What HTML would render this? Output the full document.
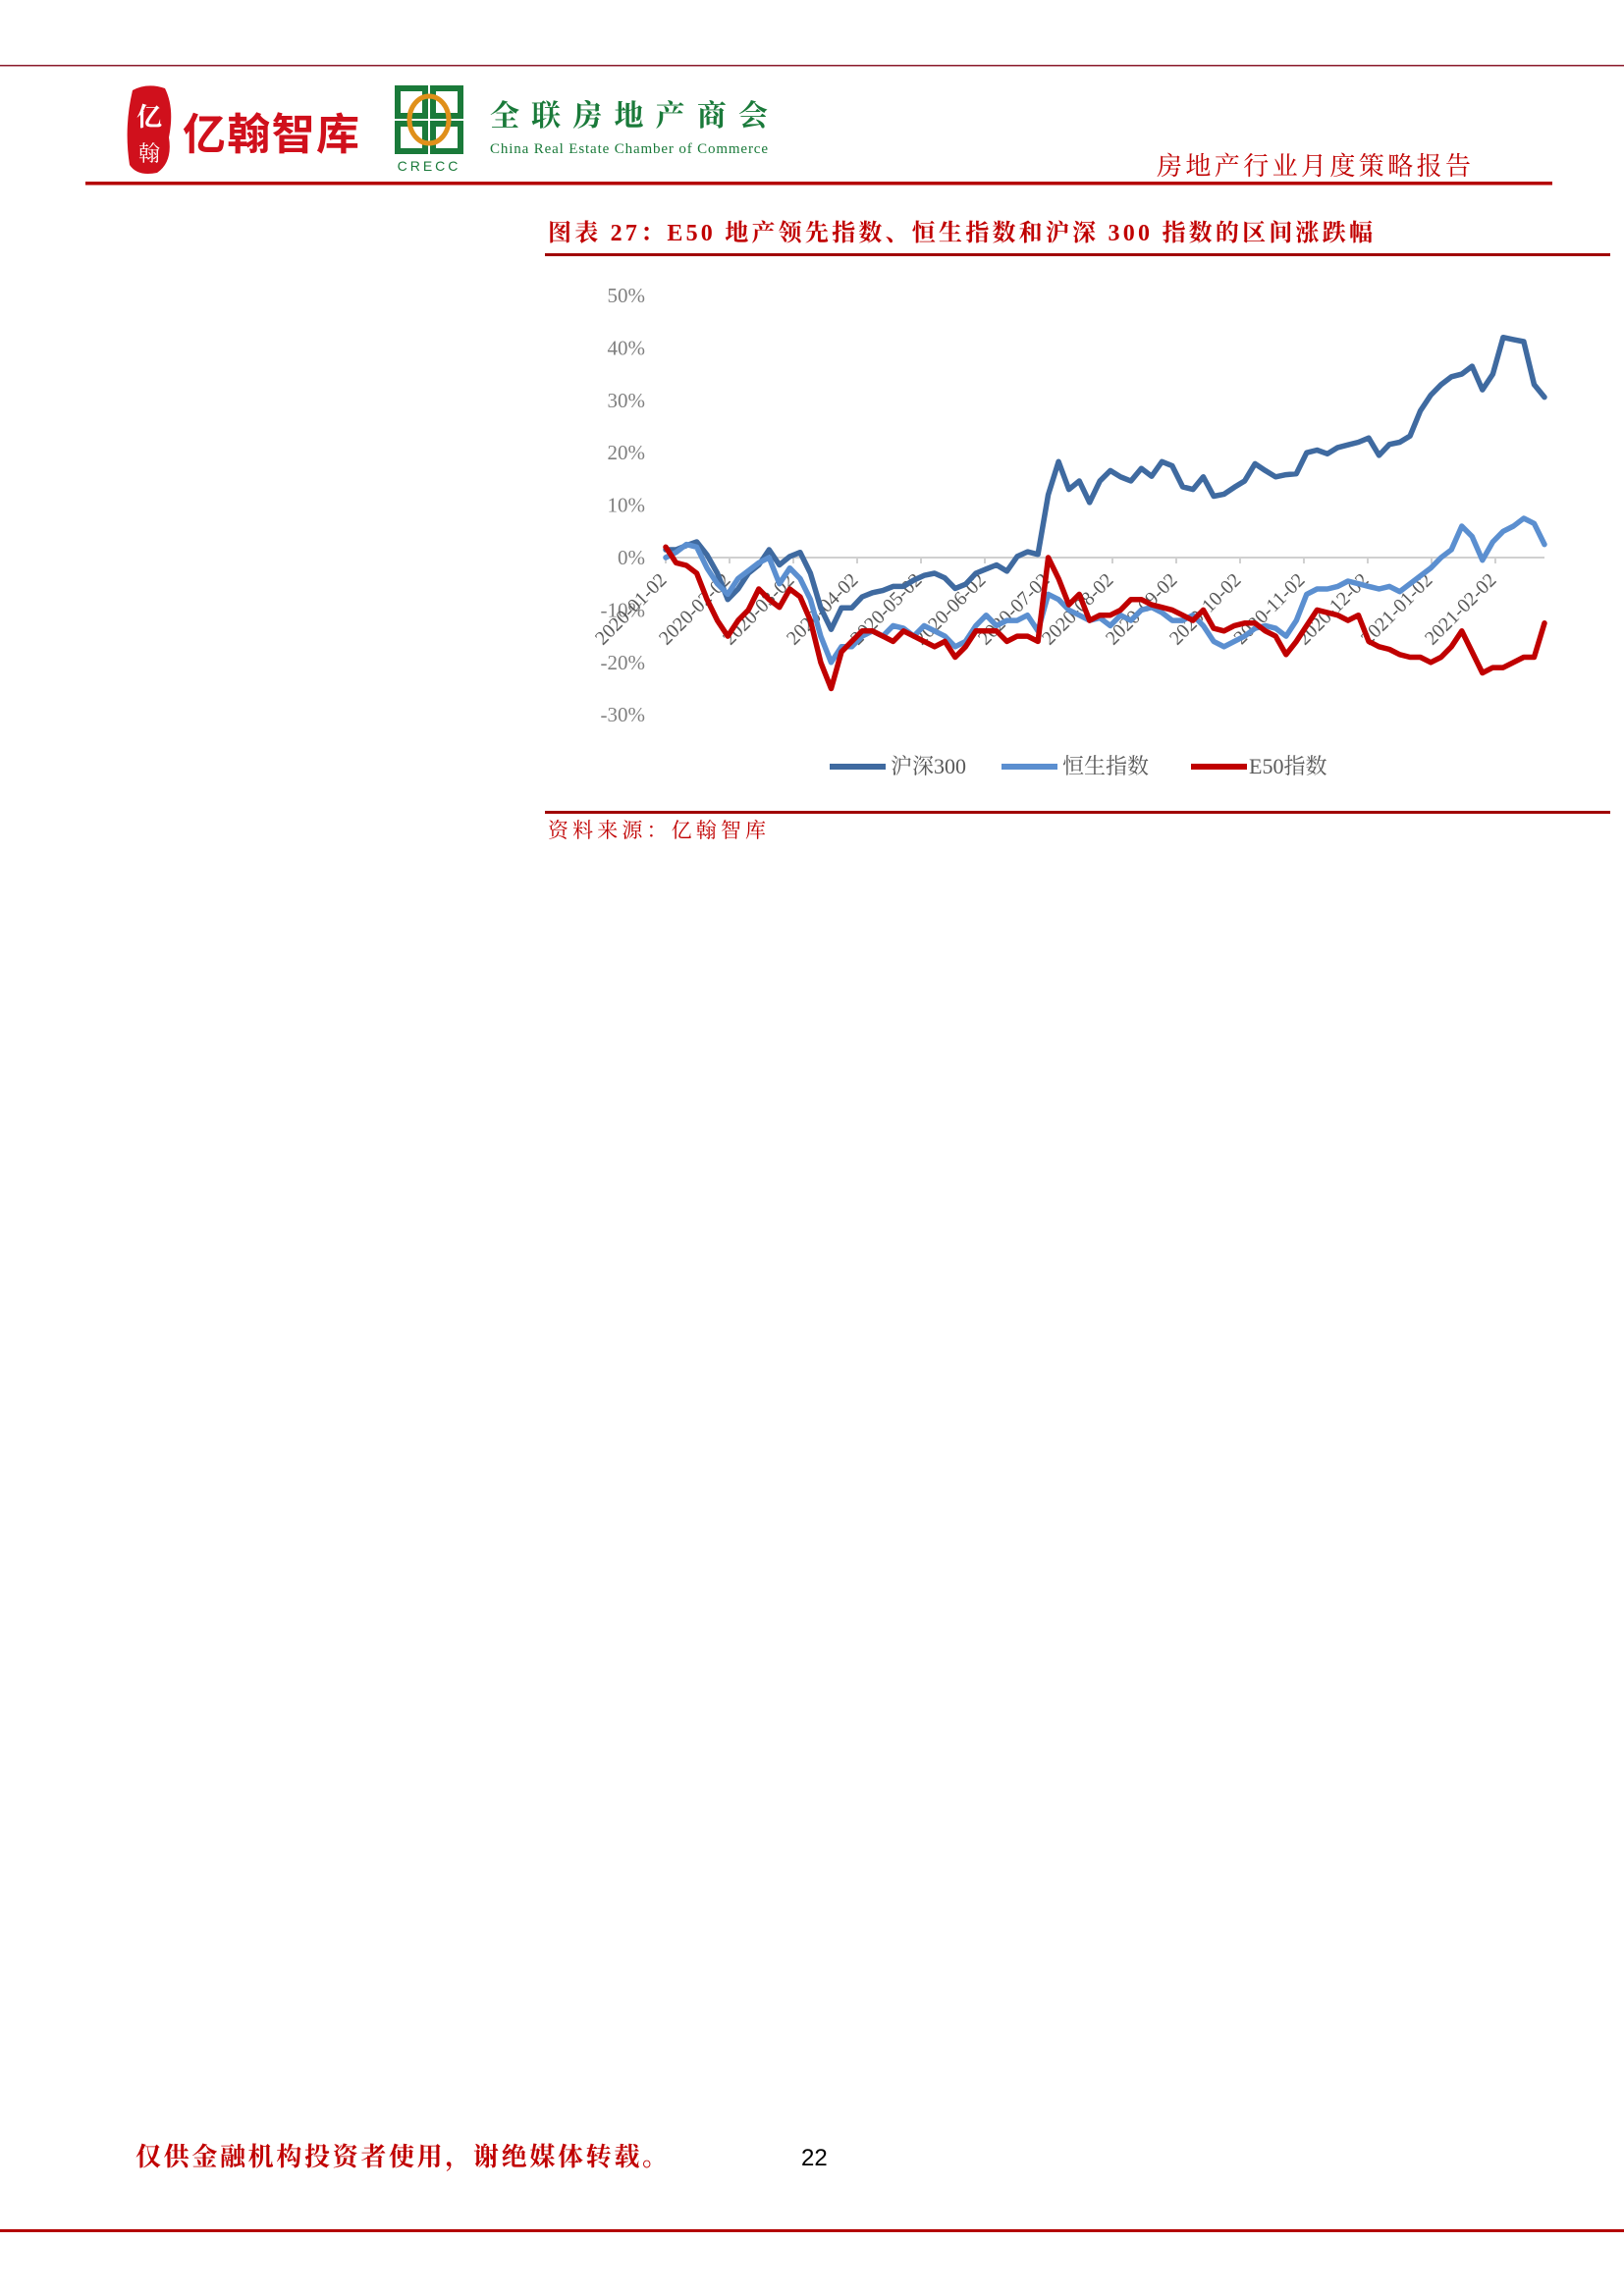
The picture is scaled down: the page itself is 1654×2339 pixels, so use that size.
<!DOCTYPE html>
<html><head><meta charset="utf-8">
<style>
html,body{margin:0;padding:0;background:#fff;}
svg{display:block;}
.serif{font-family:"Liberation Serif","Noto Serif CJK SC",serif;}
.sans{font-family:"Liberation Sans","Noto Sans CJK SC",sans-serif;}
</style></head>
<body>
<svg id="page" width="1654" height="2339" viewBox="0 0 1654 2339" xmlns="http://www.w3.org/2000/svg">
  <rect x="0" y="66" width="1654" height="1.5" fill="#8b1a2b"/>
  <g>
    <path d="M135 92 Q150 84 168 90 Q178 110 172 140 Q176 165 160 176 Q140 180 132 168 Q126 130 135 92Z" fill="#d0101c"/>
    <text x="152" y="128" font-size="26" fill="#fff" text-anchor="middle" class="serif" font-weight="bold">亿</text>
    <text x="152" y="164" font-size="22" fill="#fff" text-anchor="middle" class="serif">翰</text>
    <text x="186" y="152" font-size="44" fill="#d0101c" font-weight="bold" class="sans" textLength="180">亿翰智库</text>
  </g>
  <g>
    <rect x="405" y="90" width="28" height="28" fill="none" stroke="#1a7a3a" stroke-width="6"/>
    <rect x="441" y="90" width="28" height="28" fill="none" stroke="#1a7a3a" stroke-width="6"/>
    <rect x="405" y="126" width="28" height="28" fill="none" stroke="#1a7a3a" stroke-width="6"/>
    <rect x="441" y="126" width="28" height="28" fill="none" stroke="#1a7a3a" stroke-width="6"/>
    <ellipse cx="437" cy="122" rx="20" ry="24" fill="none" stroke="#e0901a" stroke-width="5"/>
    <text x="437" y="174" font-size="14" fill="#1a7a3a" text-anchor="middle" class="sans" letter-spacing="3">CRECC</text>
    <text x="499" y="128" font-size="30" fill="#1a7a3a" font-weight="bold" class="serif" textLength="283">全联房地产商会</text>
    <text x="499" y="156" font-size="15" fill="#1a7a3a" class="serif" textLength="283">China Real Estate Chamber of Commerce</text>
  </g>
  <text x="1178" y="178" font-size="26" fill="#c00000" class="serif" textLength="320">房地产行业月度策略报告</text>
  <rect x="87" y="185" width="1494" height="3.5" fill="#b40000"/>

  <text x="558" y="245" font-size="24" fill="#c00000" font-weight="bold" class="serif" textLength="840">图表 27：E50 地产领先指数、恒生指数和沪深 300 指数的区间涨跌幅</text>
  <rect x="555" y="258" width="1085" height="3" fill="#a00000"/>

  <g id="chart">
    <g id="yaxis"></g>
    <g id="xaxis"></g>
    <g id="series"></g>
  </g>

  <g>
    <g>
      <line x1="845" y1="781" x2="902" y2="781" stroke="#3f6aa0" stroke-width="6"/>
      <text x="907" y="788" font-size="22" fill="#595959" class="serif">沪深300</text>
    </g>
    <g>
      <line x1="1020" y1="781" x2="1077" y2="781" stroke="#5b8fd0" stroke-width="6"/>
      <text x="1082" y="788" font-size="22" fill="#595959" class="serif">恒生指数</text>
    </g>
    <g>
      <line x1="1213" y1="781" x2="1270" y2="781" stroke="#c00000" stroke-width="6"/>
      <text x="1272" y="788" font-size="22" fill="#595959" class="serif">E50指数</text>
    </g>
  </g>

  <rect x="555" y="826" width="1085" height="3" fill="#a00000"/>
  <text x="558" y="853" font-size="21" fill="#c00000" class="serif" textLength="222">资料来源：亿翰智库</text>

  <text x="138" y="2206" font-size="26" fill="#c00000" font-weight="bold" class="serif" textLength="542">仅供金融机构投资者使用，谢绝媒体转载。</text>
  <text x="816" y="2206" font-size="24" fill="#000" class="sans">22</text>
  <rect x="0" y="2271" width="1654" height="3" fill="#b40000"/>
</svg>
<script>
const yTicks = [50, 40, 30, 20, 10, 0, -10, -20, -30];
const yTickLabels = ["50%","40%","30%","20%","10%","0%","-10%","-20%","-30%"];
const monthTicks = [0,1,2,3,4,5,6,7,8,9,10,11,12,13];
const monthTickLabels = ["2020-01-02","2020-02-02","2020-03-02","2020-04-02","2020-05-02","2020-06-02","2020-07-02","2020-08-02","2020-09-02","2020-10-02","2020-11-02","2020-12-02","2021-01-02","2021-02-02"];
const spanMonths = 13.77;
const hs300 = [1.5,1.5,2.3,3,0.5,-3,-8,-6,-3,-1.4,1.5,-1.4,0.2,1,-3,-9.6,-13.7,-9.6,-9.6,-7.5,-6.7,-6.3,-5.5,-5.5,-4.3,-3.4,-3,-3.9,-5.9,-5.1,-3,-2.2,-1.4,-2.6,0.2,1.1,0.6,12,18.3,13,14.6,10.5,14.6,16.6,15.4,14.6,17,15.5,18.3,17.5,13.5,13,15.4,11.7,12.1,13.4,14.6,17.9,16.6,15.4,15.8,16,20,20.5,19.8,21,21.5,22,22.8,19.5,21.6,22,23.2,28,31,33,34.5,35,36.5,32,35,42,41.6,41.2,33,30.6];
const hsi = [0,1,2.5,2,-2,-5,-7,-4,-2.5,-1,0,-5,-2,-4,-8,-15,-20,-17,-17,-15,-14,-15,-13,-13.5,-15,-13,-14,-15,-17,-16,-13,-11,-13,-12,-12,-11,-14,-7,-8,-10,-11,-12,-11.5,-13,-11,-12,-10,-9.5,-10.5,-12,-12,-11,-13,-16,-17,-16,-15,-13.5,-13,-13.5,-15,-12,-7,-6,-6,-5.5,-4.5,-5,-5.5,-6,-5.5,-6.5,-5,-3.5,-2,0,1.5,6,4,-0.5,3,5,6,7.5,6.5,2.5];
const e50 = [2,-1,-1.5,-3,-8,-12,-15,-12,-10,-6,-8,-9.5,-6,-7.5,-12,-20,-25,-18,-16,-14,-14,-15,-16,-14,-15,-16,-17,-16,-19,-17,-14,-14,-14,-16,-15,-15,-16,0,-4,-9,-7,-12,-11,-11,-10,-8,-8,-9,-9.5,-10,-11,-12,-10,-13.5,-14,-13,-12.5,-12.5,-14,-15,-18.5,-16,-13,-10,-10.5,-11,-12,-11,-16,-17,-17.5,-18.5,-19,-19,-20,-19,-17,-14,-18,-22,-21,-21,-20,-19,-19,-12.5];

const NS = "http://www.w3.org/2000/svg";
const X0 = 678, X1 = 1573, Y0 = 568, PER10 = 53.4;
function yScale(v){ return Y0 - v / 10 * PER10; }
function xMonth(m){ return X0 + m / spanMonths * (X1 - X0); }
function xIndex(i, n){ return X0 + i / (n - 1) * (X1 - X0); }
function mk(tag, attrs, parent){ const e = document.createElementNS(NS, tag); for (const k in attrs) e.setAttribute(k, attrs[k]); parent.appendChild(e); return e; }

const yax = document.getElementById('yaxis');
yTicks.forEach((v, i) => {
  const t = mk('text', {x: 657, y: yScale(v) + 7, 'font-size': 21, fill: '#7f7f7f', 'text-anchor': 'end', 'font-family': 'Liberation Serif, serif'}, yax);
  
  
  t.textContent = yTickLabels[i];
});
const xax = document.getElementById('xaxis');
const zl = mk('line', {x1: X0, y1: Y0, x2: X1, y2: Y0, stroke: '#d0d0d0', 'stroke-width': 2}, xax);


monthTicks.forEach((m, i) => {
  const x = xMonth(m);
  const tk = mk('line', {x1: x, y1: Y0, x2: x, y2: Y0 + 6, stroke: '#d0d0d0', 'stroke-width': 2}, xax);
  
  
  const t = mk('text', {x: x + 2, y: Y0 + 24, 'font-size': 20, fill: '#595959', 'text-anchor': 'end', 'font-family': 'Liberation Serif, serif', transform: 'rotate(-45 ' + (x + 2) + ' ' + (Y0 + 24) + ')'}, xax);
  
  
  t.textContent = monthTickLabels[i];
});
const sg = document.getElementById('series');
function drawLine(arr, color, name){
  const pts = arr.map((v, i) => xIndex(i, arr.length).toFixed(1) + ',' + yScale(v).toFixed(1)).join(' ');
  const p = mk('polyline', {points: pts, fill: 'none', stroke: color, 'stroke-width': 5.5, 'stroke-linejoin': 'round', 'stroke-linecap': 'round'}, sg);
  
  
}
drawLine(hs300, '#3f6aa0', 'hs300-line');
drawLine(hsi, '#5b8fd0', 'hsi-line');
drawLine(e50, '#c00000', 'e50-line');
</script>
</body></html>
